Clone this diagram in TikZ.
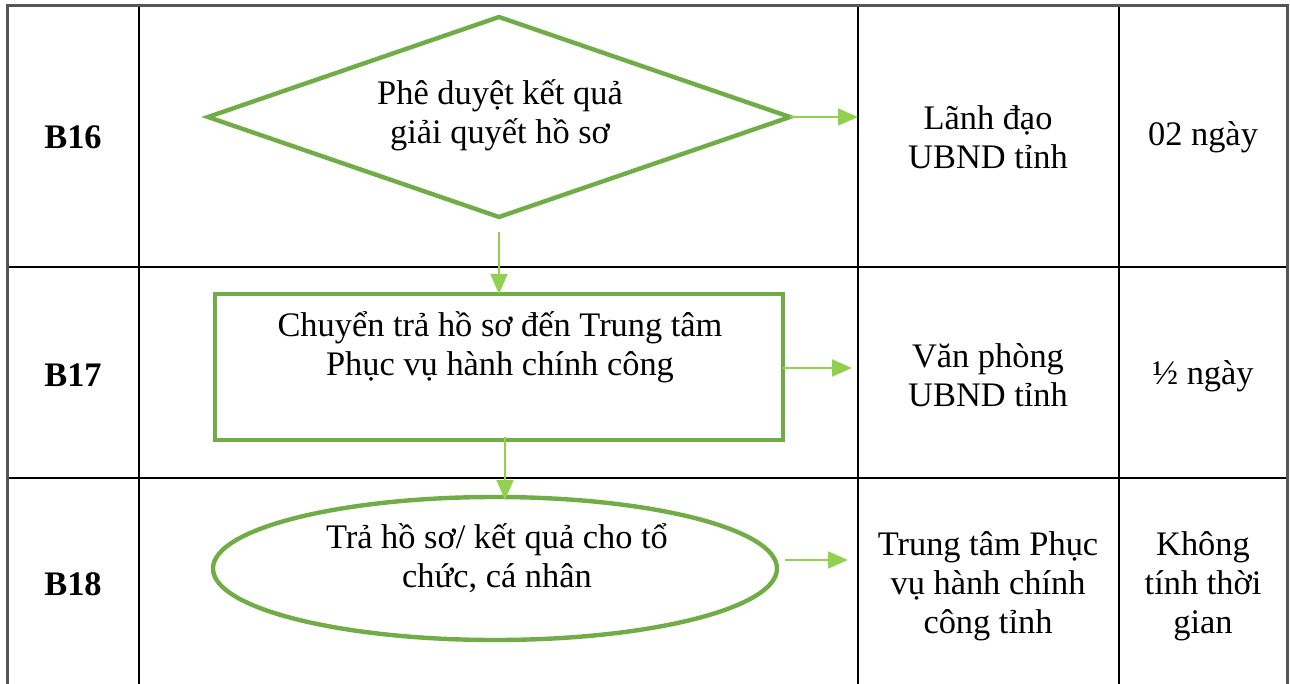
\documentclass[tikz,border=0pt]{standalone}
\usepackage{fontspec}
\setmainfont{Liberation Serif}
\usetikzlibrary{arrows.meta,shapes.geometric}
\definecolor{shapegreen}{HTML}{70AD47}
\definecolor{arrowgreen}{HTML}{92D050}
\definecolor{outergray}{HTML}{555555}
\tikzset{
  grid/.style={line width=1pt, black},
  outer/.style={line width=1.5pt, outergray},
  shapeline/.style={line width=2.2pt, shapegreen},
  flow/.style={line width=1pt, arrowgreen, -{Triangle[length=10pt,width=8.5pt]}},
  txt/.style={font=\fontsize{17.2}{19.6}\selectfont, align=center, inner sep=0pt},
  stepname/.style={font=\fontsize{17.2}{19.6}\selectfont\bfseries, inner sep=0pt}
}
\begin{document}
\begin{tikzpicture}[x=0.5pt,y=-0.5pt]
\useasboundingbox (0,0) rectangle (1290,684);
% table
\draw[grid] (139,6) -- (139,684);
\draw[grid] (858,6) -- (858,684);
\draw[grid] (1119,6) -- (1119,684);
\draw[grid] (7,267) -- (1287,267);
\draw[grid] (7,478) -- (1287,478);
\draw[outer] (7,684) -- (7,6) -- (1287,6) -- (1287,684);
% step names
\node[stepname] (b16) at (73,137) {B16};
\node[stepname] (b17) at (73,375) {B17};
\node[stepname] (b18) at (73,584) {B18};
% diamond
\coordinate (dl) at (208,117);
\coordinate (dt) at (499,17);
\coordinate (dr) at (790,117);
\coordinate (db) at (499,217);
\draw[shapeline, line join=miter] (dl) -- (dt) -- (dr) -- (db) -- cycle;
\node[txt] (dtext) at (500,115) {Phê duyệt kết quả\\giải quyết hồ sơ};
% rectangle
\draw[shapeline] (215,294) rectangle (783,440);
\coordinate (rtop) at (499,294);
\coordinate (rright) at (783,368);
\coordinate (rbot) at (505,437);
\node[txt] (rtext) at (500,347) {Chuyển trả hồ sơ đến Trung tâm\\Phục vụ hành chính công};
% ellipse
\node[shapeline, draw, ellipse, minimum width=282pt, minimum height=71.5pt, inner sep=0pt] (ell) at (495,568.5) {};
\node[txt] (etext) at (497,558) {Trả hồ sơ/ kết quả cho tổ\\chức, cá nhân};
% right columns
\node[txt] (r1) at (988,137) {Lãnh đạo\\UBND tỉnh};
\node[txt] (r2) at (988,375) {Văn phòng\\UBND tỉnh};
\node[txt] (r3) at (988,586) {Trung tâm Phục\\vụ hành chính\\công tỉnh};
\node[txt] (t1) at (1203,137) {02 ngày};
\node[txt] (t2) at (1203,376) {½ ngày};
\node[txt] (t3) at (1203,586) {Không\\tính thời\\gian};
% connectors
\coordinate (a1e) at (858,117);
\coordinate (a2s) at (499,232);
\coordinate (a3e) at (505,500);
\coordinate (a4s) at (785,560);
\coordinate (a4e) at (848,560);
\coordinate (a5e) at (852,368);
\draw[flow] (dr) -- (a1e);
\draw[flow] (a2s) -- (rtop);
\draw[flow] (rright) -- (a5e);
\draw[flow] (rbot) -- (a3e);
\draw[flow] (a4s) -- (a4e);
\end{tikzpicture}
\end{document}
